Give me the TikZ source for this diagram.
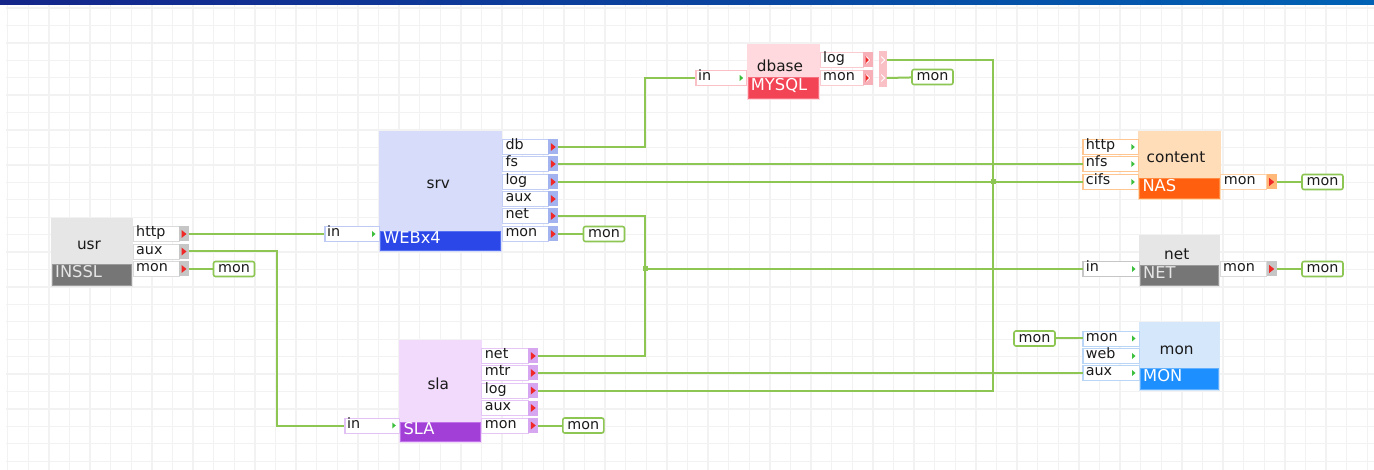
\documentclass[tikz,border=0pt]{standalone}
\usepackage{fontspec}
\setmainfont{DejaVu Sans}
\usetikzlibrary{calc}

% palette
\definecolor{gridc}{HTML}{F2F2F2}
\definecolor{barL}{HTML}{15258A}
\definecolor{barR}{HTML}{0062B4}
\definecolor{wire}{HTML}{8DC653}
\definecolor{portred}{HTML}{F02828}
\definecolor{inarrow}{HTML}{3CC03C}
\definecolor{ink}{HTML}{1A1A1A}
% gray blocks (usr, net)
\definecolor{grayBg}{HTML}{E6E6E6}
\definecolor{grayTab}{HTML}{C6C6C6}
\definecolor{grayType}{HTML}{767676}
\definecolor{grayEdge}{HTML}{9A9A9A}
% srv
\definecolor{srvBg}{HTML}{D6DCF9}
\definecolor{srvTab}{HTML}{A3B3F0}
\definecolor{srvType}{HTML}{2B47E8}
\definecolor{srvEdge}{HTML}{5570F0}
% dbase
\definecolor{dbBg}{HTML}{FFD9DD}
\definecolor{dbTab}{HTML}{F7B0B8}
\definecolor{dbType}{HTML}{F24455}
\definecolor{dbEdge}{HTML}{F77080}
% content
\definecolor{nasBg}{HTML}{FFDDB9}
\definecolor{nasTab}{HTML}{FFB877}
\definecolor{nasType}{HTML}{FF5F0F}
\definecolor{nasEdge}{HTML}{FF8A40}
% mon
\definecolor{monBg}{HTML}{D5E7FB}
\definecolor{monTab}{HTML}{A8CCF5}
\definecolor{monType}{HTML}{1E8FFF}
\definecolor{monEdge}{HTML}{60B0FF}
% sla
\definecolor{slaBg}{HTML}{F1DAFC}
\definecolor{slaTab}{HTML}{D6A6F0}
\definecolor{slaType}{HTML}{A23FD6}
\definecolor{slaEdge}{HTML}{C070E8}

\tikzset{
  plabel/.style={anchor=west, inner sep=0pt, text=ink, font=\fontsize{14.3}{14.3}\selectfont,
    text height=0.74em, text depth=0.2em},
  bname/.style={inner sep=0pt, text=ink, font=\fontsize{15.3}{15.3}\selectfont},
  tlabel/.style={anchor=west, inner sep=0pt, text=white, font=\fontsize{16.3}{16.3}\selectfont,
    text height=0.74em, text depth=0.2em},
  montag/.style={draw=wire, line width=1.6pt, rounded corners=2pt, fill=white,
    minimum width=41pt, minimum height=15pt, inner sep=0pt, text=ink,
    font=\fontsize{14.3}{14.3}\selectfont},
  link/.style={draw=wire, line width=2pt},
  joint/.style={fill=wire, minimum size=5pt, inner sep=0pt},
}

% output row: name, x, top, label, label width, tab colour
\newcommand{\OutPort}[6]{%
  \path[draw=#6!65!white, fill=white, line width=0.8pt] (#2,#3) rectangle ++(#5,15);
  \path[fill=#6] (#2+#5,#3) rectangle ++(10,15);
  \path[fill=portred] (#2+#5+2.5,#3+3.5) -- ++(5,4) -- ++(-5,4) -- cycle;
  \node[plabel] at (#2+3,#3+7.5) {#4};
  \coordinate (#1) at (#2+#5+10,#3+7.5);
}
% input row: name, x, top, label, width, border colour
\newcommand{\InPort}[6]{%
  \path[draw=#6, fill=white, line width=0.8pt] (#2,#3) rectangle ++(#5,15);
  \path[fill=#6] (#2,#3) rectangle ++(1.6,15);
  \path[fill=inarrow] (#2+#5-7,#3+4.5) -- ++(3.5,3) -- ++(-3.5,3) -- cycle;
  \node[plabel] at (#2+3,#3+7.5) {#4};
  \coordinate (#1) at (#2,#3+7.5);
}
% block body: x1, y1, x2, y2, fill, type top, type fill, type edge, type text
\newcommand{\Body}[9]{%
  \path[fill=#5] (#1,#2) rectangle (#3,#4);
  \path[fill=#7, draw=#8, line width=1pt] (#1+1.5,#6) rectangle (#3-1.5,#4-1.5);
  \node[tlabel] at (#1+4,{(#6+#4-1.5)/2}) {#9};
}

\begin{document}
\begin{tikzpicture}[x=1pt,y=-1pt]
\useasboundingbox (0,0) rectangle (1374,470);
\fill[white] (0,0) rectangle (1374,470);

% background grid
\foreach \i in {0,...,66}
  \draw[gridc, line width=1.3pt] (7.7+\i*20.6,5) -- (7.7+\i*20.6,470);
\foreach \j in {0,...,26}
  \draw[gridc, line width=1.3pt] (6,8+\j*17.43) -- (1374,8+\j*17.43);

% title bar
\shade[left color=barL, right color=barR] (0,0) rectangle (1374,5);

% ---------------- usr ----------------
\Body{51}{218}{133}{287}{grayBg}{264.5}{grayType}{grayEdge}{\textcolor{grayBg}{INSSL}}
\node[bname] (usr) at (89,245) {usr};
\OutPort{usr-http}{133}{226.5}{http}{46}{grayTab}
\OutPort{usr-aux}{133}{244}{aux}{46}{grayTab}
\OutPort{usr-mon}{133}{261.5}{mon}{46}{grayTab}
\node[montag] (usr-tag) at (234,269) {mon};

% ---------------- srv ----------------
\Body{379}{131}{502.3}{251.7}{srvBg}{231.7}{srvType}{srvEdge}{WEBx4}
\node[bname] (srv) at (438.3,184) {srv};
\OutPort{srv-db}{502.3}{139.5}{db}{46}{srvTab}
\OutPort{srv-fs}{502.3}{156.5}{fs}{46}{srvTab}
\OutPort{srv-log}{502.3}{174.5}{log}{46}{srvTab}
\OutPort{srv-aux}{502.3}{191.5}{aux}{46}{srvTab}
\OutPort{srv-net}{502.3}{208.5}{net}{46}{srvTab}
\OutPort{srv-mon}{502.3}{226.5}{mon}{46}{srvTab}
\InPort{srv-in}{324}{226.5}{in}{55}{srvTab!70!white}
\node[montag] (srv-tag) at (604,234) {mon};

% ---------------- dbase ----------------
\Body{746.7}{44.3}{820}{100}{dbBg}{77.7}{dbType}{dbEdge}{MYSQL}
\node[bname] (dbase) at (780,65.5) {dbase};
\OutPort{dbase-logtab}{820}{52.5}{log}{43}{dbTab}
\OutPort{dbase-montab}{820}{70.5}{mon}{43}{dbTab}
\path[fill=dbTab!80!white] (879.3,51) rectangle (886.7,86.7);
\foreach \yy in {60,78}{
  \draw[white, line width=0.8pt] (866.3,\yy-3.5) -- ++(3.5,3.5) -- ++(-3.5,3.5);
  \draw[white, line width=0.8pt] (881.3,\yy-3.5) -- ++(3.5,3.5) -- ++(-3.5,3.5);
}
\coordinate (dbase-log) at (886.7,60);
\coordinate (dbase-mon) at (886.7,78);
\InPort{dbase-in}{695}{70.5}{in}{51.7}{dbTab!80!white}
\node[montag] (dbase-tag) at (932.5,77) {mon};

% ---------------- content ----------------
\Body{1138.3}{131}{1220.7}{200}{nasBg}{178.3}{nasType}{nasEdge}{NAS}
\node[bname] (content) at (1176,157) {content};
\InPort{content-http}{1082.7}{139.5}{http}{55.6}{nasTab!80!white}
\InPort{content-nfs}{1082.7}{156.5}{nfs}{55.6}{nasTab!80!white}
\InPort{content-cifs}{1082.7}{174.5}{cifs}{55.6}{nasTab!80!white}
\OutPort{content-mon}{1220.7}{174.5}{mon}{46}{nasTab}
\node[montag] (content-tag) at (1322.5,182) {mon};

% ---------------- net ----------------
\Body{1139}{235}{1220}{286.7}{grayBg}{265.7}{grayType}{grayEdge}{\textcolor{grayBg}{NET}}
\node[bname] (net) at (1176.7,254) {net};
\InPort{net-in}{1082.7}{261.5}{in}{56.3}{grayTab}
\OutPort{net-mon}{1220}{261.5}{mon}{46.7}{grayTab}
\node[montag] (net-tag) at (1322.5,269) {mon};

% ---------------- mon ----------------
\Body{1139}{322.3}{1220}{391}{monBg}{368.3}{monType}{monEdge}{MON}
\node[bname] (mon) at (1176.7,350.5) {mon};
\InPort{mon-mon}{1082.7}{331}{mon}{56.3}{monTab!80!white}
\InPort{mon-web}{1082.7}{348.5}{web}{56.3}{monTab!80!white}
\InPort{mon-aux}{1082.7}{365.5}{aux}{56.3}{monTab!80!white}
\node[montag] (mon-tag) at (1034.5,338.5) {mon};

% ---------------- sla ----------------
\Body{399.3}{340}{481.7}{443.3}{slaBg}{422.7}{slaType}{slaEdge}{SLA}
\node[bname] (sla) at (438.3,384) {sla};
\OutPort{sla-net}{481.7}{348.5}{net}{46.6}{slaTab}
\OutPort{sla-mtr}{481.7}{365.5}{mtr}{46.6}{slaTab}
\OutPort{sla-log}{481.7}{383}{log}{46.6}{slaTab}
\OutPort{sla-aux}{481.7}{400.5}{aux}{46.6}{slaTab}
\OutPort{sla-mon}{481.7}{418}{mon}{46.6}{slaTab}
\InPort{sla-in}{344}{418}{in}{55.3}{slaTab!70!white}
\node[montag] (sla-tag) at (583.3,425.5) {mon};

% ---------------- wiring ----------------
\coordinate (netbus) at (645,269);
\coordinate (logbus) at (993,182);

\draw[link] (usr-http) -- (srv-in);
\draw[link] (usr-aux) -- ++(88,0) |- (sla-in);
\draw[link] (usr-mon) -- (usr-tag);

\draw[link] (srv-db) -| (netbus |- dbase-in) -- (dbase-in);
\draw[link] (srv-fs) -- (content-nfs);
\draw[link] (srv-log) -- (content-cifs);
\draw[link] (srv-net) -| (netbus) |- (sla-net);
\draw[link] (netbus) -- (net-in);
\draw[link] (srv-mon) -- (srv-tag);

\draw[link] (dbase-log) -| (logbus) |- (sla-log);
\draw[link] (dbase-mon) -- (dbase-tag);

\draw[link] (sla-mtr) -- (mon-aux);
\draw[link] (sla-mon) -- (sla-tag);

\draw[link] (content-mon) -- (content-tag);
\draw[link] (net-mon) -- (net-tag);
\draw[link] (mon-tag) -- (mon-mon);

\node[joint] at (netbus) {};
\node[joint] at (logbus) {};
\end{tikzpicture}
\end{document}
